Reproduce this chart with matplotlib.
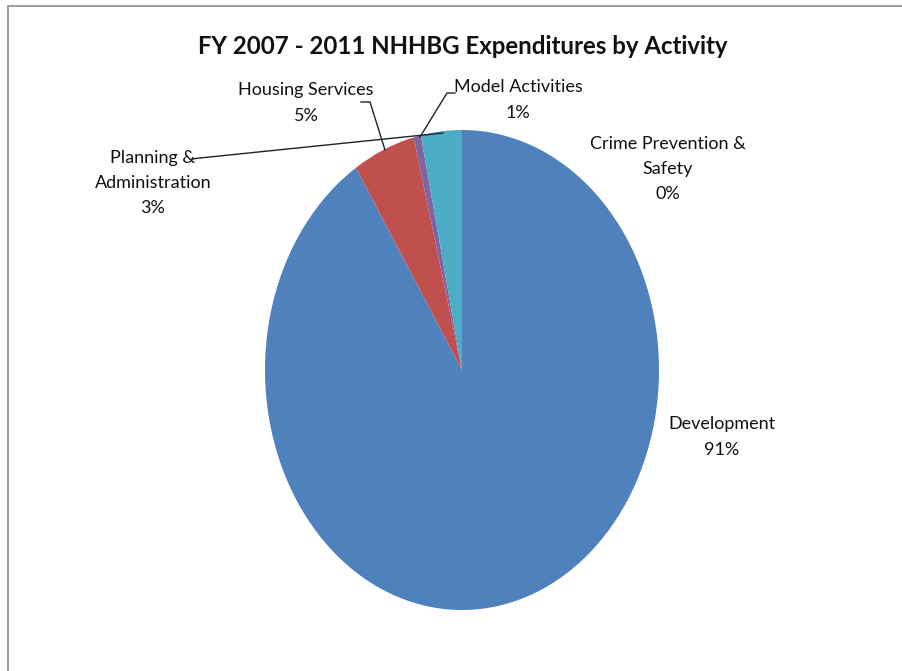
import matplotlib.pyplot as plt
from matplotlib.patches import Rectangle

labels = ["Development", "Crime Prevention &\nSafety", "Housing Services",
          "Model Activities", "Planning &\nAdministration"]
shares = [90.95, 0.0, 5.1, 0.6, 3.35]
shown = ["91%", "0%", "5%", "1%", "3%"]
colors = ["#4F81BD", "#9BBB59", "#C0504D", "#8064A2", "#4BACC6"]

W, H = 903, 671
CX, CY, RX, RY = 462, 370, 197, 240


def px(x, y):
    # pixel position in the image -> data coords of the (stretched) pie
    return (x - CX) / RX, (CY - y) / RY


plt.rcParams["font.family"] = ["Lato", "DejaVu Sans"]

fig = plt.figure(figsize=(W / 100, H / 100), dpi=100)
fig.patch.set_facecolor("white")
ax = fig.add_axes([0, 0, 1, 1])
ax.pie(shares, colors=colors, startangle=90, counterclock=False, radius=1,
       wedgeprops=dict(linewidth=0))
ax.set_aspect("auto")
ax.set_xlim(px(0, 0)[0], px(W, 0)[0])
ax.set_ylim(px(0, H)[1], px(0, 0)[1])
ax.axis("off")

# chart border (top and left visible)
fig.add_artist(Rectangle((8 / W, -0.1), 1.2, (H - 6) / H + 0.1,
                         transform=fig.transFigure, fill=False,
                         edgecolor="#8c8c8c", linewidth=1.2))

fig.text(463 / W, 1 - 46 / H, "FY 2007 - 2011 NHHBG Expenditures by Activity",
         ha="center", va="center", fontsize=17.3, fontweight="bold", color="#111")

# label positions (pixel centres of the text block)
pos = {
    0: (722, 437),
    1: (668, 169),
    2: (306, 103),
    3: (518, 100),
    4: (153, 183),
}
for i, (lab, pct) in enumerate(zip(labels, shown)):
    x, y = px(*pos[i])
    ax.text(x, y, f"{lab}\n{pct}", ha="center", va="center", fontsize=13,
            linespacing=1.72, color="#111")

# leader lines
leaders = [
    [(361, 102), (370, 102), (385, 150)],
    [(455, 93), (447, 93), (420, 137)],
    [(192, 159), (200, 158), (443, 133)],
]
for pts in leaders:
    xs, ys = zip(*[px(a, b) for a, b in pts])
    ax.plot(xs, ys, color="#222", linewidth=1)

fig.savefig("out.png", dpi=100, facecolor="white")
